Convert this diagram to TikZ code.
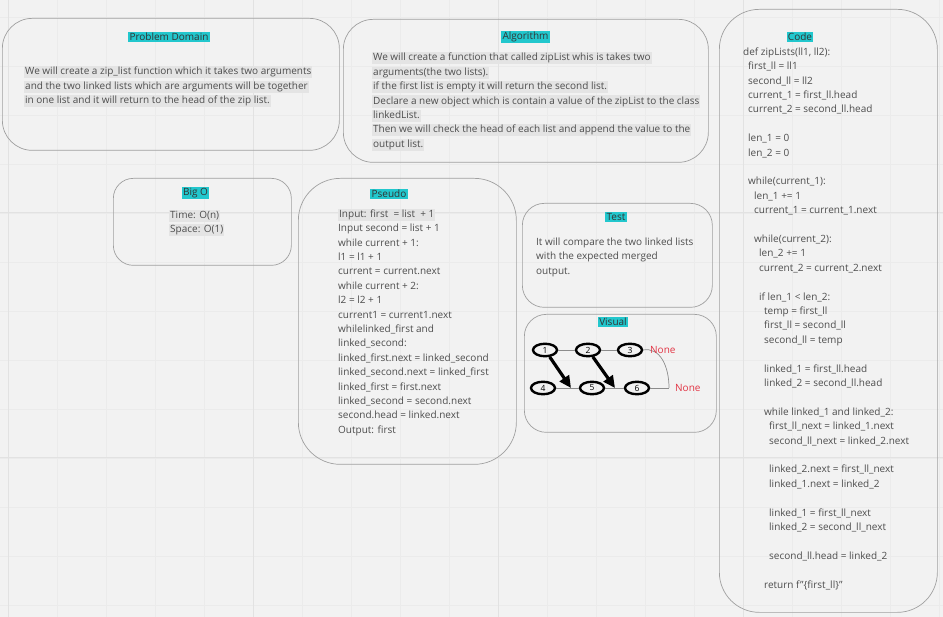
\documentclass[tikz,border=0pt]{standalone}
\usepackage{fontspec}
\setmainfont{Open Sans}
\usetikzlibrary{shapes.geometric,arrows.meta}
\definecolor{boardbg}{RGB}{242,242,242}
\definecolor{gridfine}{RGB}{235,235,235}
\definecolor{gridbold}{RGB}{226,226,226}
\definecolor{panelline}{RGB}{160,160,160}
\definecolor{titlecyan}{RGB}{34,199,205}
\definecolor{bodytext}{RGB}{77,77,77}
\definecolor{hlgray}{RGB}{228,228,228}
\definecolor{nonered}{RGB}{226,52,68}
\newcommand{\boardfont}{\fontsize{10}{14.4}\selectfont}
\newcommand{\hl}[1]{{\setlength{\fboxsep}{1pt}\colorbox{hlgray}{\rule[-2.5pt]{0pt}{9.8pt}#1}}}
\newcommand{\codeind}[1]{\hspace*{#1pt}}
\tikzset{
  panel/.style={
    draw=panelline,
    line width=0.7pt,
    anchor=north west,
    inner sep=0pt
  },
  paneltitle/.style={
    fill=titlecyan,
    text=black!80,
    inner sep=1.2pt,
    font=\boardfont
  },
  paneltext/.style={
    anchor=north west,
    align=left,
    inner sep=0pt,
    text=bodytext,
    font=\boardfont
  },
  listnode/.style={
    shape=ellipse,
    draw,
    line width=2.4pt,
    minimum width=24pt,
    minimum height=12.5pt,
    inner sep=0pt,
    font=\fontsize{8.5}{8.5}\selectfont
  },
  listlink/.style={draw=black!45, line width=0.7pt},
  zipmove/.style={line width=3.2pt, -{Triangle[length=12pt,width=11pt]}},
  nonelabel/.style={text=nonered, font=\boardfont, inner sep=0pt}
}
\begin{document}
\begin{tikzpicture}[x=1pt,y=-1pt]
  \fill[boardbg] (0,0) rectangle (943,617);
  \useasboundingbox (0,0) rectangle (943,617);
  % board grid
  \foreach \gx in {8,57,...,939}
    \draw[gridfine,line width=0.6pt] (\gx,0) -- (\gx,617);
  \foreach \gy in {17,66,...,617}
    \draw[gridfine,line width=0.6pt] (0,\gy) -- (943,\gy);
  \foreach \gx in {8,253,498,743}
    \draw[gridbold,line width=1pt] (\gx,0) -- (\gx,617);
  \foreach \gy in {213,458}
    \draw[gridbold,line width=1pt] (0,\gy) -- (943,\gy);

  \node[panel,rounded corners=30pt,minimum width=337pt,minimum height=132pt] (domain) at (2,18) {};
  \node[panel,rounded corners=30pt,minimum width=365pt,minimum height=143pt] (algo) at (343,19) {};
  \node[panel,rounded corners=20pt,minimum width=178pt,minimum height=87pt] (bigo) at (113,178) {};
  \node[panel,rounded corners=42pt,minimum width=218pt,minimum height=286pt] (pseudo) at (298,178) {};
  \node[panel,rounded corners=22pt,minimum width=190pt,minimum height=104pt] (test) at (522,203) {};
  \node[panel,rounded corners=22pt,minimum width=192pt,minimum height=118pt] (visual) at (524,314) {};
  \node[panel,rounded corners=40pt,minimum width=218pt,minimum height=603pt] (code) at (719,9) {};

  \node[paneltitle] (domaintitle) at (169,37) {Problem Domain};
  \node[paneltitle] (algotitle) at (525.5,37) {Algorithm};
  \node[paneltitle] (bigotitle) at (195.5,193) {Big O};
  \node[paneltitle] (pseudotitle) at (389,194) {Pseudo};
  \node[paneltitle] (testtitle) at (616,217) {Test};
  \node[paneltitle] (visualtitle) at (613,322) {Visual};
  \node[paneltitle] (codetitle) at (800,37) {Code};

  \node[paneltext] (domaintext) at (24,66) {%
    \hl{We will create a zip\_list function which it takes two arguments}\\
    \hl{and the two linked lists which are arguments will be together}\\
    \hl{in one list and it will return to the head of the zip list.}};
  \node[paneltext] (algotext) at (372,52) {%
    \hl{We will create a function that called zipList whis is takes two}\\
    \hl{arguments(the two lists).}\\
    \hl{if the first list is empty it will return the second list.}\\
    \hl{Declare a new object which is contain a value of the zipList to the class}\\
    \hl{linkedList.}\\
    \hl{Then we will check the head of each list and append the value to the}\\
    \hl{output list.}};
  \node[paneltext] (bigotext) at (169,209.5) {%
    \hl{Time: O(n)}\\
    \hl{Space: O(1)}};
  \node[paneltext] (testtext) at (536,237.5) {%
    It will compare the two linked lists\\
    with the expected merged\\
    output.};
  \node[paneltext] (pseudotext) at (338,208.5) {%
    \hl{Input: first\ \ = list\ \ + 1}\\
    Input second = list + 1\\
    while current + 1:\\
    l1 = l1 + 1\\
    current = current.next\\
    while current + 2:\\
    l2 = l2 + 1\\
    current1 = current1.next\\
    whilelinked\_first and\\
    linked\_second:\\
    linked\_first.next = linked\_second\\
    linked\_second.next = linked\_first\\
    linked\_first = first.next\\
    linked\_second = second.next\\
    second.head = linked.next\\
    Output: first};
  \node[paneltext] (codetext) at (743,47.5) {%
    def zipLists(ll1, ll2):\\
    \codeind{5}first\_ll = ll1\\
    \codeind{5}second\_ll = ll2\\
    \codeind{5}current\_1 = first\_ll.head\\
    \codeind{5}current\_2 = second\_ll.head\\
    \mbox{}\\
    \codeind{5}len\_1 = 0\\
    \codeind{5}len\_2 = 0\\
    \mbox{}\\
    \codeind{5}while(current\_1):\\
    \codeind{11}len\_1 += 1\\
    \codeind{11}current\_1 = current\_1.next\\
    \mbox{}\\
    \codeind{11}while(current\_2):\\
    \codeind{16}len\_2 += 1\\
    \codeind{16}current\_2 = current\_2.next\\
    \mbox{}\\
    \codeind{16}if len\_1 < len\_2:\\
    \codeind{21}temp = first\_ll\\
    \codeind{21}first\_ll = second\_ll\\
    \codeind{21}second\_ll = temp\\
    \mbox{}\\
    \codeind{21}linked\_1 = first\_ll.head\\
    \codeind{21}linked\_2 = second\_ll.head\\
    \mbox{}\\
    \codeind{21}while linked\_1 and linked\_2:\\
    \codeind{26}first\_ll\_next = linked\_1.next\\
    \codeind{26}second\_ll\_next = linked\_2.next\\
    \mbox{}\\
    \codeind{26}linked\_2.next = first\_ll\_next\\
    \codeind{26}linked\_1.next = linked\_2\\
    \mbox{}\\
    \codeind{26}linked\_1 = first\_ll\_next\\
    \codeind{26}linked\_2 = second\_ll\_next\\
    \mbox{}\\
    \codeind{26}second\_ll.head = linked\_2\\
    \mbox{}\\
    \codeind{21}return f"\{first\_ll\}"};

  % linked lists
  \node[listnode] (n1) at (545,350) {1};
  \node[listnode] (n2) at (588,350) {2};
  \node[listnode] (n3) at (630,350) {3};
  \node[listnode] (n4) at (543,388) {4};
  \node[listnode] (n5) at (592,388) {5};
  \node[listnode] (n6) at (637,388) {6};
  \coordinate (tip1) at (571,388);
  \coordinate (tip2) at (615,388);
  \coordinate (nullend) at (669,388);
  \draw[listlink] (n1) -- (n2);
  \draw[listlink] (n2) -- (n3);
  \draw[listlink] (n4) -- (n5);
  \draw[listlink] (n5) -- (n6);
  \draw[listlink] (n6) -- (nullend);
  \draw[listlink] (n3.east) .. controls (660,347) and (669,366) .. (nullend);
  \draw[zipmove] (n1) -- (tip1);
  \draw[zipmove] (n2) -- (tip2);
  \node[nonelabel,anchor=west] (none1) at (650,350) {None};
  \node[nonelabel,anchor=west] (none2) at (675,388) {None};
\end{tikzpicture}
\end{document}
